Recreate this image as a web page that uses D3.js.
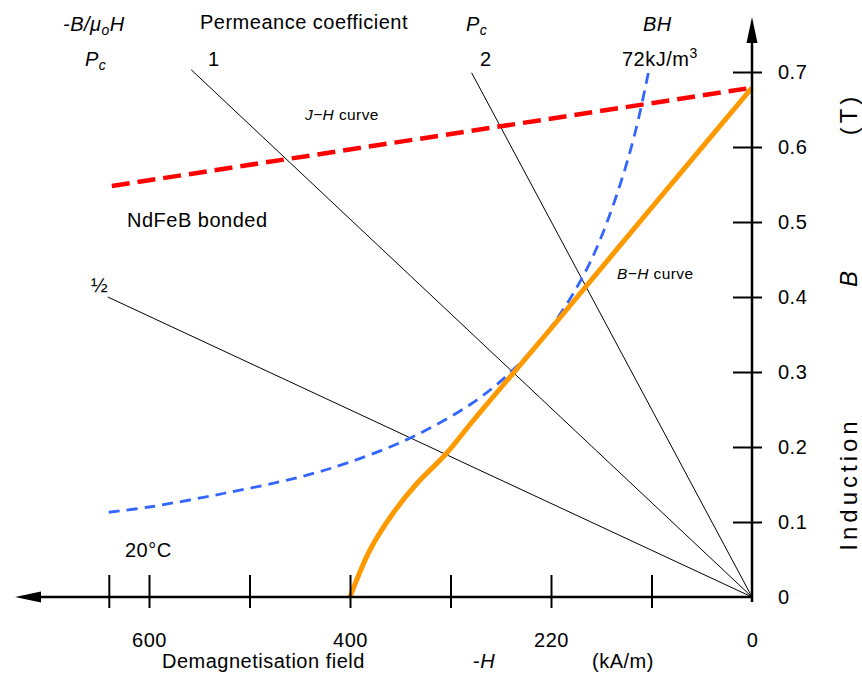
<!DOCTYPE html>
<html>
<head>
<meta charset="utf-8">
<script src="https://cdn.jsdelivr.net/npm/d3@7"></script>
<style>
  body { margin: 0; background: #fff; }
  svg { display: block; font-family: "Liberation Sans", Arial, sans-serif; }
</style>
</head>
<body>
<svg id="chart" width="862" height="673"></svg>
<script>
// -H in kA/m, B in T
const xTicks = [100, 200, 300, 400, 500, 600, 640];
const xLabelValues = [600, 400, 200, 0];
const xLabelTexts = ["600", "400", "220", "0"];
const yTicks = [0.1, 0.2, 0.3, 0.4, 0.5, 0.6, 0.7];
const yLabelValues = [0, 0.1, 0.2, 0.3, 0.4, 0.5, 0.6, 0.7];

// B-H curve (orange)
const bhCurve = [[400, 0], [380, 0.063], [357, 0.112], [333, 0.152], [305, 0.19],
  [280, 0.231], [260, 0.263], [200, 0.358], [100, 0.519], [0, 0.679]];
// J-H curve (red dashed)
const jhCurve = [[637, 0.548], [0, 0.679]];
// BH = 72 kJ/m3 (blue dashed)
const bhProduct = [[640, 0.113], [600, 0.12], [526, 0.138], [450, 0.16], [400, 0.18],
  [340, 0.212], [280, 0.257], [240, 0.3], [200, 0.36], [168, 0.428], [150, 0.48],
  [130, 0.555], [115, 0.626], [103, 0.70]];
// permeance coefficient lines, from origin to end point
const permNames = ["1", "2", "½"];
const permEndH = [558, 279, 641];
const permEndB = [0.703, 0.699, 0.4];

const svg = d3.select("#chart");

const x = d3.scaleLinear().domain([0, 600]).range([752, 149]);
const y = d3.scaleLinear().domain([0, 0.7]).range([597, 72]);
const x0 = x(0), y0 = y(0);

const line = d3.line().x(d => x(d[0])).y(d => y(d[1]));

// permeance lines
permNames.forEach((p, i) => {
  svg.append("path")
    .attr("d", line([[0, 0], [permEndH[i], permEndB[i]]]))
    .attr("stroke", "#000")
    .attr("stroke-width", 1)
    .attr("fill", "none");
});

// BH product curve
svg.append("path")
  .attr("d", d3.line().x(d => x(d[0])).y(d => y(d[1])).curve(d3.curveCatmullRom)(bhProduct))
  .attr("stroke", "#3366ff")
  .attr("stroke-width", 2.8)
  .attr("stroke-dasharray", "11,7")
  .attr("fill", "none");

// J-H
svg.append("path")
  .attr("d", line(jhCurve))
  .attr("stroke", "#ff0000")
  .attr("stroke-width", 4.5)
  .attr("stroke-dasharray", "18,8")
  .attr("fill", "none");

// B-H
svg.append("path")
  .attr("d", d3.line().x(d => x(d[0])).y(d => y(d[1])).curve(d3.curveCatmullRom)(bhCurve))
  .attr("stroke", "#ff9900")
  .attr("stroke-width", 5)
  .attr("fill", "none");

// axes lines + arrows
svg.append("line")
  .attr("x1", 38).attr("x2", x0 + 1).attr("y1", y0).attr("y2", y0)
  .attr("stroke", "#000").attr("stroke-width", 2.5);
svg.append("path")
  .attr("d", `M15,${y0} L41,${y0 - 5.5} L41,${y0 + 5.5} Z`)
  .attr("fill", "#000");
svg.append("line")
  .attr("x1", x0).attr("x2", x0).attr("y1", y0 + 5).attr("y2", 40)
  .attr("stroke", "#000").attr("stroke-width", 2.5);
svg.append("path")
  .attr("d", `M${x0},17 L${x0 - 5.5},43 L${x0 + 5.5},43 Z`)
  .attr("fill", "#000");

// x ticks
const gx = svg.append("g")
  .attr("transform", `translate(0,${y0})`)
  .call(d3.axisBottom(x).tickValues(xTicks).tickFormat(""));
gx.select(".domain").remove();
gx.selectAll(".tick line").attr("y1", -22).attr("y2", 11).attr("stroke-width", 2);

svg.append("g")
  .attr("transform", `translate(0,${y0})`)
  .call(d3.axisBottom(x).tickValues(xLabelValues).tickSize(0).tickPadding(36)
    .tickFormat((d, i) => xLabelTexts[i]))
  .call(g => g.select(".domain").remove())
  .selectAll("text")
  .attr("font-size", 20).attr("font-family", null).attr("fill", "#000")
  .attr("letter-spacing", 0.5);

// y ticks
const gy = svg.append("g")
  .attr("transform", `translate(${x0},0)`)
  .call(d3.axisRight(y).tickValues(yTicks).tickFormat(""));
gy.select(".domain").remove();
gy.selectAll(".tick line").attr("x1", -19).attr("x2", 10).attr("stroke-width", 2);

svg.append("g")
  .attr("transform", `translate(${x0},0)`)
  .call(d3.axisRight(y).tickValues(yLabelValues).tickSize(0).tickPadding(26)
    .tickFormat(d => d === 0 ? "0" : d3.format(".1f")(d)))
  .call(g => g.select(".domain").remove())
  .selectAll("text")
  .attr("font-size", 20).attr("font-family", null).attr("fill", "#000")
  .attr("letter-spacing", 0.5);

// text helper
function label(xp, yp, parts, size) {
  const t = svg.append("text").attr("x", xp).attr("y", yp)
    .attr("font-size", size || 20).attr("letter-spacing", 0.5).attr("fill", "#000");
  parts.forEach(p => {
    const s = t.append("tspan").text(p.t);
    if (p.i) s.attr("font-style", "italic");
    if (p.dy) s.attr("dy", p.dy);
    if (p.fs) s.attr("font-size", p.fs);
  });
  return t;
}

label(63, 31, [{t: "-B/μ", i: 1}, {t: "o", i: 1, dy: 4, fs: 14}, {t: "H", i: 1, dy: -4}]);
label(200, 29, [{t: "Permeance coefficient"}]);
label(85, 66, [{t: "P", i: 1}, {t: "c", i: 1, dy: 4, fs: 14}]);
label(208, 66, [{t: permNames[0]}]);
label(466, 31, [{t: "P", i: 1}, {t: "c", i: 1, dy: 4, fs: 14}]);
label(480, 66, [{t: permNames[1]}]);
label(643, 31, [{t: "BH", i: 1}]);
label(622, 66, [{t: "72kJ/m"}, {t: "3", dy: -8, fs: 14}]);
label(91, 292, [{t: permNames[2]}]);
label(127, 227, [{t: "NdFeB bonded"}]);
label(125, 557, [{t: "20°C"}]);
label(305, 120, [{t: "J−H", i: 1}, {t: " curve"}], 15.5).attr("letter-spacing", 0.4);
label(617, 279, [{t: "B−H", i: 1}, {t: " curve"}], 15.5).attr("letter-spacing", 0.4);

label(162, 668, [{t: "Demagnetisation field"}]);
label(473, 668, [{t: "-"}, {t: "H", i: 1}]);
label(592, 668, [{t: "(kA/m)"}]);

// rotated y title
function vlabel(cy, parts) {
  const t = svg.append("text")
    .attr("transform", `translate(857,${cy}) rotate(-90)`)
    .attr("text-anchor", "middle")
    .attr("font-size", 24).attr("letter-spacing", 4).attr("fill", "#000");
  parts.forEach(p => {
    const s = t.append("tspan").text(p.t);
    if (p.i) s.attr("font-style", "italic");
  });
}
vlabel(114, [{t: "(T)"}]);
vlabel(277, [{t: "B", i: 1}]);
vlabel(484, [{t: "Induction"}]);
</script>
</body>
</html>
